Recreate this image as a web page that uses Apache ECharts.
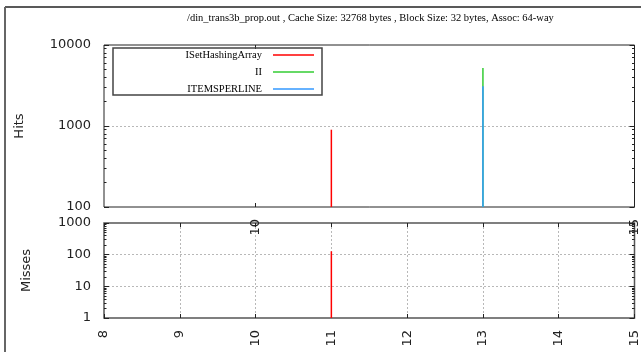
<!DOCTYPE html>
<html><head><meta charset="utf-8">
<script src="https://cdn.jsdelivr.net/npm/echarts@6/dist/echarts.min.js"></script>
<style>html,body{margin:0;padding:0;background:#fff}#chart{width:641px;height:352px}</style>
</head><body><div id="chart"></div>
<script>
// Cache simulation results per set index
const seriesNames = ['ISetHashingArray', 'II', 'ITEMSPERLINE'];
const seriesColors = ['#ff0000', '#33cc33', '#3399ff'];
const setIndex = [11, 13, 13];
const hits = [900, 5200, 3100];
const misses = [128, null, null];

// Axis ticks
const setTicks = [8, 9, 10, 11, 12, 13, 14, 15];
const hitsSetTicks = [10, 15];
const hitsDecades = [100, 1000, 10000];
const missesDecades = [1, 10, 100, 1000];

const SANS = 'DejaVu Sans';
const SERIF = 'Liberation Serif';
const LABEL_COLOR = '#222';

function minorTicks(decades) {
  const out = [];
  for (let i = 0; i < decades.length - 1; i++) {
    for (let m = 2; m <= 9; m++) out.push(decades[i] * m);
  }
  return out;
}

const dotted = { show: true, showMinLine: false, showMaxLine: false,
  lineStyle: { color: '#b8b8b8', width: 1, type: [2, 2] } };

function xAxisDef(grid, pos, ticks, withLabels, withGrid) {
  return {
    type: 'value', gridIndex: grid, position: pos, min: 8, max: 15, interval: 1,
    axisLine: { show: false },
    axisTick: { show: true, inside: true, length: 4, customValues: ticks,
      lineStyle: { color: '#222', width: 1 } },
    axisLabel: withLabels ? { show: true, customValues: ticks, rotate: 90, margin: 12,
      fontFamily: SANS, fontSize: 13, color: LABEL_COLOR, formatter: v => String(v) }
      : { show: false },
    splitLine: withGrid ? dotted : { show: false }
  };
}

function yAxisDef(grid, pos, lo, hi, ticks, len, opts) {
  return Object.assign({
    type: 'log', logBase: 10, gridIndex: grid, position: pos, min: lo, max: hi,
    axisLine: { show: false },
    axisTick: { show: true, inside: true, length: len, customValues: ticks,
      lineStyle: { color: '#222', width: 1 } },
    axisLabel: { show: false },
    splitLine: { show: false }
  }, opts || {});
}

function valueAxisMain(grid, lo, hi, decades, name, gap) {
  return yAxisDef(grid, 'left', lo, hi, decades, 5, {
    name: name, nameLocation: 'middle', nameGap: gap,
    nameTextStyle: { fontFamily: SANS, fontSize: 13, color: LABEL_COLOR },
    axisLabel: { show: true, customValues: decades, margin: 13,
      fontFamily: SANS, fontSize: 13, color: LABEL_COLOR, formatter: v => String(v) },
    splitLine: dotted
  });
}

// Each value is drawn as an impulse from the bottom of its panel
function impulse(name, color, xIdx, yIdx, point) {
  return {
    name: name, type: 'bar', xAxisIndex: xIdx, yAxisIndex: yIdx,
    barWidth: 1.5, barGap: '-100%', clip: true,
    itemStyle: { color: color },
    data: point
  };
}

const series = [];
seriesNames.forEach((name, i) => {
  series.push(impulse(name, seriesColors[i], 0, 0, hits[i] == null ? [] : [[setIndex[i], hits[i]]]));
});
seriesNames.forEach((name, i) => {
  series.push(impulse(name, seriesColors[i], 2, 4, misses[i] == null ? [] : [[setIndex[i], misses[i]]]));
});

const chart = echarts.init(document.getElementById('chart'), null, { renderer: 'canvas' });
chart.setOption({
  animation: false,
  backgroundColor: '#fff',
  title: {
    text: '/din_trans3b_prop.out , Cache Size: 32768 bytes , Block Size: 32 bytes, Assoc: 64-way',
    left: 187, top: 13, padding: 0,
    textStyle: { fontFamily: SERIF, fontSize: 10.5, fontWeight: 'normal', color: '#000' }
  },
  grid: [
    { left: 104, top: 45, width: 533, height: 162, show: true, borderColor: '#222', borderWidth: 1, backgroundColor: 'transparent' },
    { left: 104, top: 223, width: 533, height: 95, show: true, borderColor: '#555', borderWidth: 1.5, backgroundColor: 'transparent' }
  ],
  xAxis: [
    xAxisDef(0, 'bottom', hitsSetTicks, true, true),
    xAxisDef(0, 'top', hitsSetTicks, false, false),
    xAxisDef(1, 'bottom', setTicks, true, true),
    xAxisDef(1, 'top', setTicks, false, false)
  ],
  yAxis: [
    valueAxisMain(0, 100, 10000, hitsDecades, 'Hits', 78),
    yAxisDef(0, 'left', 100, 10000, minorTicks(hitsDecades), 2.5),
    yAxisDef(0, 'right', 100, 10000, hitsDecades, 5),
    yAxisDef(0, 'right', 100, 10000, minorTicks(hitsDecades), 2.5),
    valueAxisMain(1, 1, 1000, missesDecades, 'Misses', 71),
    yAxisDef(1, 'left', 1, 1000, minorTicks(missesDecades), 2.5),
    yAxisDef(1, 'right', 1, 1000, missesDecades, 5),
    yAxisDef(1, 'right', 1, 1000, minorTicks(missesDecades), 2.5)
  ],
  legend: {
    orient: 'vertical', align: 'right', right: 327, top: 49, padding: 0,
    itemWidth: 41, itemHeight: 1.5, itemGap: 5, icon: 'rect',
    selectedMode: false,
    data: seriesNames,
    textStyle: { fontFamily: SERIF, fontSize: 10.5, lineHeight: 12, color: '#000', padding: [0, 6, 0, 0] }
  },
  graphic: [
    { type: 'line', shape: { x1: 5, y1: 7, x2: 641, y2: 7 }, style: { stroke: '#222', lineWidth: 1.5 }, silent: true },
    { type: 'line', shape: { x1: 5, y1: 7, x2: 5, y2: 352 }, style: { stroke: '#666', lineWidth: 2 }, silent: true },
    { type: 'rect', shape: { x: 113, y: 48, width: 209, height: 47 }, style: { fill: 'none', stroke: '#444', lineWidth: 1.5 }, z: 10, silent: true }
  ],
  series: series
});
</script></body></html>
